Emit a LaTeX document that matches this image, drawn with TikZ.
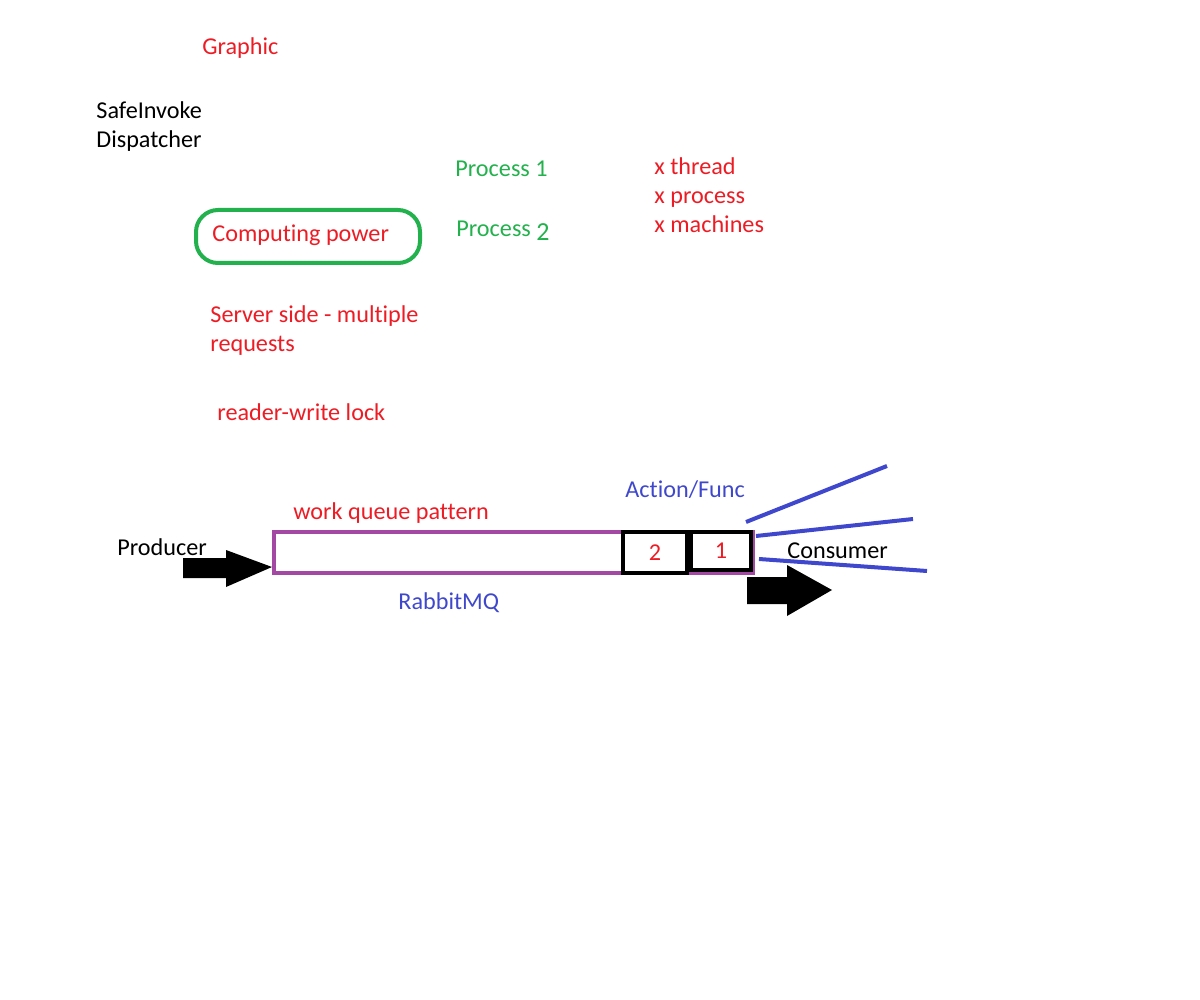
\documentclass[tikz,border=0pt]{standalone}
\usepackage{fontspec}
\setmainfont[Ligatures={NoCommon,NoContextual}]{Carlito}
\usepackage{tikz}
\definecolor{Txt}{HTML}{ED1C24}
\definecolor{Grn}{HTML}{22B14C}
\definecolor{Blu}{HTML}{3F48CC}
\definecolor{Pur}{HTML}{A349A4}
\tikzset{
  lab/.style={anchor=base west,inner sep=0pt,font=\fontsize{12.1}{14.5}\selectfont},
  slot/.style={draw=black,line width=2pt,inner sep=0pt,font=\fontsize{12.1}{14.5}\selectfont,text=Txt},
  fan/.style={Blu,line width=2pt}
}
\begin{document}
\begin{tikzpicture}[x=0.5pt,y=-0.5pt]
  \useasboundingbox (0,0) rectangle (1200,1000);
  % headings
  \node[lab,Txt] (graphic) at (202,55) {Graphic};
  \node[lab] (safe) at (96,119) {SafeInvoke};
  \node[lab] (disp) at (96,148) {Dispatcher};
  \node[lab,Grn] (proc1) at (455,177) {Process 1};
  \node[lab,Grn] (proc2) at (456,237) {Process};
  \node[lab,Grn,font=\fontsize{13}{15}\selectfont] (proc2n) at (536,241) {2};
  \foreach \n/\y/\t in {xa/175/x thread,xb/204/x process,xc/233/x machines}
    \node[lab,Txt] (\n) at (654,\y) {\t};
  % computing power
  \draw[Grn,line width=2pt,rounded corners=11pt] (196,210) rectangle (420,263);
  \node[lab,Txt] (power) at (212,242) {Computing power};
  \node[lab,Txt] (server) at (210,323) {Server side - multiple};
  \node[lab,Txt] (req) at (210,351) {requests};
  \node[lab,Txt] (lock) at (217,421) {reader-write lock};
  % queue
  \node[lab,Txt] (pattern) at (293,519) {work queue pattern};
  \node[lab] (producer) at (117,555) {Producer};
  \node[lab,Blu] (rabbit) at (398,609) {RabbitMQ};
  \node[lab,Blu] (action) at (625,497) {Action/Func};
  \node[lab] (consumer) at (787,558) {Consumer};
  \draw[Pur,line width=2.2pt] (274,532) rectangle (753,573);
  \node[slot,minimum width=32pt,minimum height=20.5pt] (m2) at (655,552.5) {\raisebox{-4pt}{2}};
  \node[slot,minimum width=30pt,minimum height=19pt] (m1) at (721,551) {1};
  % arrows in and out
  \fill[black] (183,558) -- (226,558) -- (226,550) -- (272,567) -- (226,587) -- (226,578) -- (183,578) -- cycle;
  \fill[black] (747,577) -- (787,577) -- (787,565) -- (832,590) -- (787,616) -- (787,604) -- (747,604) -- cycle;
  \foreach \a/\b in {{746,522}/{887,466},{756,536}/{913,519},{759,559}/{927,571}}
    \draw[fan] (\a) -- (\b);
\end{tikzpicture}
\end{document}
